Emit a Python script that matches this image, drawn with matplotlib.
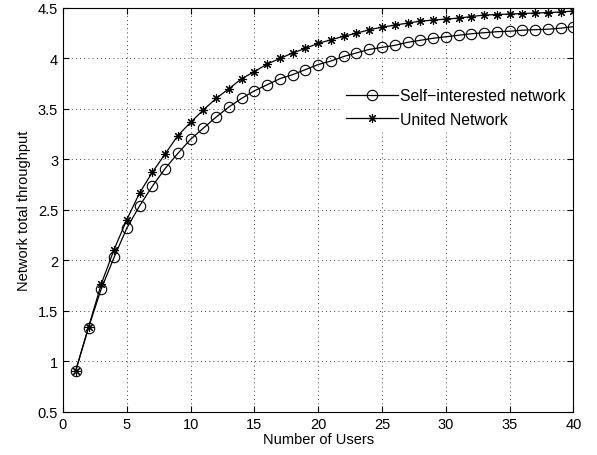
import matplotlib.pyplot as plt
import numpy as np

plt.rcParams['font.family'] = ['Liberation Sans', 'DejaVu Sans']

users = np.arange(1, 41)

# values
self_interested = [0.91, 1.335, 1.72, 2.03, 2.32, 2.54, 2.735, 2.91, 3.06, 3.20,
                   3.31, 3.42, 3.52, 3.605, 3.68, 3.74, 3.80, 3.84, 3.89, 3.94,
                   3.975, 4.02, 4.055, 4.09, 4.11, 4.13, 4.16, 4.18, 4.20, 4.215,
                   4.23, 4.245, 4.255, 4.265, 4.27, 4.28, 4.285, 4.29, 4.30, 4.315]
united = [0.91, 1.34, 1.767, 2.107, 2.404, 2.668, 2.873, 3.054, 3.236, 3.368,
          3.49, 3.605, 3.70, 3.80, 3.87, 3.945, 4.00, 4.055, 4.10, 4.15,
          4.185, 4.22, 4.25, 4.285, 4.31, 4.33, 4.35, 4.37, 4.38, 4.39,
          4.40, 4.415, 4.43, 4.435, 4.44, 4.445, 4.45, 4.455, 4.46, 4.47]

fig = plt.figure(figsize=(5.97, 4.56), dpi=100)
ax = fig.add_axes([0.1055, 0.0943, 0.855, 0.886])

ax.plot(users, self_interested, color='black', lw=0.9, marker='o', ms=7.5,
        mfc='none', mec='black', mew=0.8, label='Self\u2212interested network')
ax.plot(users, united, color='black', lw=0.9, marker=(8, 2, 0), ms=6.5,
        mec='black', mew=0.8, label='United Network')

ax.set_xlim(0, 40)
ax.set_ylim(0.5, 4.5)
ax.set_xticks(np.arange(0, 41, 5))
ax.set_yticks(np.arange(0.5, 4.51, 0.5))
ax.set_yticklabels(['0.5', '1', '1.5', '2', '2.5', '3', '3.5', '4', '4.5'])
ax.grid(True, linestyle=(0, (1, 4)), color='black', lw=0.6)
ax.tick_params(direction='in', top=True, right=True, labelsize=10.5, length=4)
for s in ax.spines.values():
    s.set_linewidth(0.8)

ax.set_xlabel('Number of Users', fontsize=10.5, labelpad=1)
ax.set_ylabel('Network total throughput', fontsize=10.5, labelpad=5)

leg = ax.legend(loc='upper left', bbox_to_anchor=(0.53, 0.833), frameon=True,
                fontsize=11.3, handlelength=3.3, borderpad=0.3, labelspacing=0.55,
                handletextpad=0.15)
leg.get_frame().set_edgecolor('white')
leg.get_frame().set_facecolor('white')
leg.get_frame().set_alpha(1)

fig.savefig('out.png', dpi=100)
